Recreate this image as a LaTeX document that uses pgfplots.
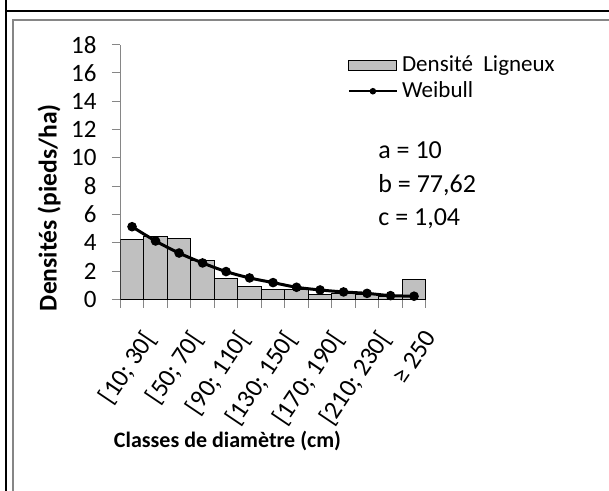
\documentclass[border=0pt]{standalone}
\usepackage{pgfplots}
\pgfplotsset{compat=1.18}
\usepackage{fontspec}
\setmainfont{Carlito}
\definecolor{axgray}{RGB}{134,134,134}
\definecolor{barfill}{RGB}{192,192,192}
\pgfplotsset{
  barlegend/.style={legend image code/.code={\draw[##1] (0pt,-2.5pt) rectangle (24pt,2.5pt);}},
  linelegend/.style={legend image code/.code={\draw[##1, mark size=1pt, line width=1.2pt, mark repeat=2, mark phase=2] plot coordinates {(0pt,0pt) (12pt,0pt) (24pt,0pt)};}},
}
\begin{document}
\begin{tikzpicture}
\useasboundingbox (0,0) rectangle (304.5pt,-245.5pt);
\draw[line width=1pt] (3pt,0) -- (3pt,-245.5pt);
\draw[line width=1pt] (3pt,-5.5pt) -- (304.5pt,-5.5pt);
\draw[axgray, line width=0.75pt] (6.5pt,-245.5pt) -- (6.5pt,-10pt) -- (304.5pt,-10pt);
\begin{axis}[
  at={(60.15pt,-149.65pt)}, anchor=south west,
  scale only axis, width=152.75pt, height=127.35pt,
  xmin=0.5, xmax=13.5, ymin=0, ymax=18,
  axis lines=left,
  axis line style={axgray, line width=0.5pt, -},
  tick style={axgray, line width=0.5pt},
  tick align=outside,
  major tick length=4.2pt,
  ytick={0,2,...,18},
  xtick={0.5,1.5,...,13.5},
  xticklabel=\empty,
  extra x ticks={1,3,5,7,9,11,13},
  extra x tick labels={{[10; 30[},{[50; 70[},{[90; 110[},{[130; 150[},{[170; 190[},{[210; 230[},{≥ 250}},
  extra x tick style={major tick length=0pt,
     xticklabel style={font=\fontsize{12.8}{14}\selectfont, inner sep=0pt, xshift=4.5pt, yshift=-14.3pt, rotate=56, anchor=north east}},
  /pgf/number format/assume math mode=true,
  tick label style={font=\fontsize{12.5}{14}\selectfont},
  yticklabel style={anchor=east, inner sep=0pt, xshift=-7.5pt},
  xlabel={Classes de diamètre (cm)},
  ylabel={Densités (pieds/ha)},
  xlabel style={font=\fontsize{11}{13}\selectfont\bfseries, at={(axis description cs:0.351,-0.555)}, anchor=center},
  ylabel style={font=\fontsize{12.8}{14}\selectfont\bfseries, at={(axis description cs:-0.233,0.36)}, anchor=center},
  legend cell align=left,
  legend style={draw=none, fill=none, at={(axis description cs:0.743,0.965)}, anchor=north west,
     font=\fontsize{11.5}{13}\selectfont, inner xsep=0pt, inner ysep=0pt, row sep=1.5pt,
     nodes={inner xsep=2pt, inner ysep=1pt}},
]
\addplot[ybar, bar width=1, fill=barfill, draw=black, line width=0.5pt, barlegend]
  coordinates {(1,4.24) (2,4.42) (3,4.33) (4,2.76) (5,1.46) (6,0.87) (7,0.71) (8,0.72) (9,0.35) (10,0.42) (11,0.36) (12,0.22) (13,1.39)};
\addlegendentry{Densité\ \ Ligneux}
\addplot[black, line width=1.5pt, smooth, mark=*, mark size=1.6pt, linelegend]
  coordinates {(1,5.13) (2,4.12) (3,3.27) (4,2.57) (5,1.96) (6,1.51) (7,1.18) (8,0.85) (9,0.66) (10,0.52) (11,0.42) (12,0.26) (13,0.22)};
\addlegendentry{Weibull}
\end{axis}
\node[anchor=base west, inner sep=0pt, font=\fontsize{13}{15}\selectfont] at (189pt,-79.5pt) {a = 10};
\node[anchor=base west, inner sep=0pt, font=\fontsize{13}{15}\selectfont] at (189pt,-96.3pt) {b = 77,62};
\node[anchor=base west, inner sep=0pt, font=\fontsize{13}{15}\selectfont] at (189pt,-112.8pt) {c = 1,04};
\end{tikzpicture}
\end{document}
